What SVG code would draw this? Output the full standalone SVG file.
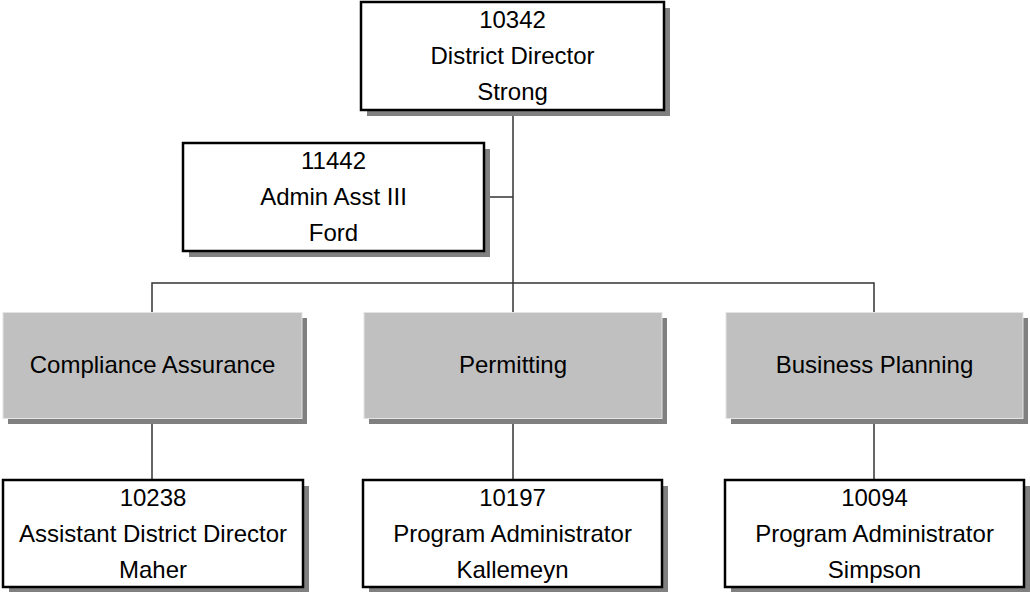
<svg xmlns="http://www.w3.org/2000/svg" width="1030" height="592" viewBox="0 0 1030 592">
<style>
.box{fill:#ffffff;stroke:#000000;stroke-width:2.5}
.shadow{fill:#808080}
.grey{fill:#c0c0c0;stroke:#e4e4e4;stroke-width:1}
.t{font-family:"Liberation Sans",Arial,sans-serif;font-size:24px;fill:#000;text-anchor:middle}
.c{fill:none;stroke:#333333;stroke-width:1.5}
</style>
<rect width="1030" height="592" fill="#ffffff"/>
<g id="connectors">
<path class="c" d="M513,110 V312"/>
<path class="c" d="M484,197 H513"/>
<path class="c" d="M152,312 V283 H874 V312"/>
<path class="c" d="M152,418 V480"/>
<path class="c" d="M513,418 V480"/>
<path class="c" d="M874,418 V480"/>
</g>
<g id="n10342">
<rect class="shadow" x="367" y="8" width="303" height="108"/>
<rect class="box" x="361" y="2" width="303" height="108"/>
<text class="t" x="512.5" y="28">10342</text>
<text class="t" x="512.5" y="64">District Director</text>
<text class="t" x="512.5" y="100">Strong</text>
</g>
<g id="n11442">
<rect class="shadow" x="189" y="149" width="301" height="108"/>
<rect class="box" x="183" y="143" width="301" height="108"/>
<text class="t" x="333.5" y="169">11442</text>
<text class="t" x="333.5" y="205">Admin Asst III</text>
<text class="t" x="333.5" y="241">Ford</text>
</g>
<g id="compliance">
<rect class="shadow" x="8" y="318" width="299" height="106"/>
<rect class="grey" x="3" y="312.5" width="299" height="106"/>
<text class="t" x="152.5" y="373">Compliance Assurance</text>
</g>
<g id="permitting">
<rect class="shadow" x="369" y="318" width="298" height="106"/>
<rect class="grey" x="364" y="312.5" width="298" height="106"/>
<text class="t" x="513" y="373">Permitting</text>
</g>
<g id="business">
<rect class="shadow" x="731" y="318" width="297" height="106"/>
<rect class="grey" x="726" y="312.5" width="297" height="106"/>
<text class="t" x="874.5" y="373">Business Planning</text>
</g>
<g id="n10238">
<rect class="shadow" x="9" y="486" width="300" height="107"/>
<rect class="box" x="3" y="480" width="300" height="107"/>
<text class="t" x="153" y="506">10238</text>
<text class="t" x="153" y="542">Assistant District Director</text>
<text class="t" x="153" y="578">Maher</text>
</g>
<g id="n10197">
<rect class="shadow" x="369" y="486" width="299" height="107"/>
<rect class="box" x="363" y="480" width="299" height="107"/>
<text class="t" x="512.5" y="506">10197</text>
<text class="t" x="512.5" y="542">Program Administrator</text>
<text class="t" x="512.5" y="578">Kallemeyn</text>
</g>
<g id="n10094">
<rect class="shadow" x="731" y="486" width="299" height="107"/>
<rect class="box" x="725" y="480" width="299" height="107"/>
<text class="t" x="874.5" y="506">10094</text>
<text class="t" x="874.5" y="542">Program Administrator</text>
<text class="t" x="874.5" y="578">Simpson</text>
</g>
</svg>
